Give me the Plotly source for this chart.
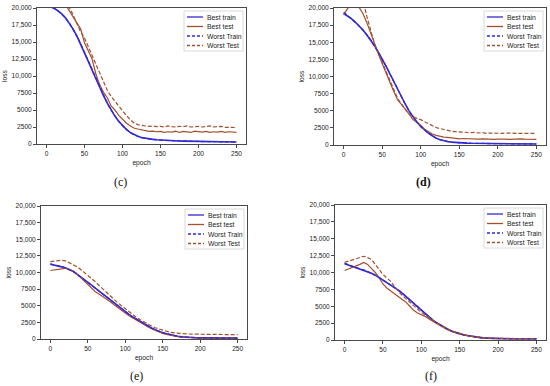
import plotly.graph_objects as go

W, H = 550, 386

epochs = list(range(0, 251, 5))
y_ticks = [0, 2500, 5000, 7500, 10000, 12500, 15000, 17500, 20000]
y_ticktext = ["0", "2500", "5000", "7500", "10,000", "12,500", "15,000", "17,500", "20,000"]
x_ticks = [0, 50, 100, 150, 200, 250]
series_names = ["Best train", "Best test", "Worst Train", "Worst Test"]
panel_labels = ["(c)", "(d)", "(e)", "(f)"]

# ---- panel (c) ----
c_best_train = [20400, 20200, 19950, 19600, 19150, 18550, 17800, 16900, 15850, 14700,
                13450, 12150, 10850, 9550, 8300, 7100, 6000, 5000, 4100, 3350,
                2700, 2150, 1700, 1380, 1130, 960, 840, 750, 680, 620,
                575, 535, 505, 480, 460, 440, 425, 410, 400, 390,
                380, 370, 360, 355, 345, 340, 330, 325, 320, 310, 300]
c_best_test = [23500, 23000, 22500, 22000, 21300, 20500, 19600, 18600, 17600, 16900,
               14900, 13600, 12500, 10300, 8700, 7600, 6800, 5600, 5000, 4200,
               3600, 3100, 2700, 2350, 2200, 2050, 2000, 1850, 1900, 1800,
               1850, 1700, 1800, 1750, 1900, 1700, 1850, 1800, 1700, 1900,
               1800, 1750, 1850, 1700, 1800, 1750, 1850, 1700, 1800, 1750, 1700]
c_worst_train = [20420, 20210, 19960, 19590, 19130, 18530, 17790, 16910, 15870, 14720,
                 13460, 12140, 10830, 9540, 8300, 7110, 6010, 4990, 4090, 3340,
                 2690, 2140, 1690, 1370, 1120, 950, 830, 740, 670, 610,
                 565, 525, 495, 470, 450, 435, 420, 405, 395, 385,
                 375, 365, 355, 350, 340, 335, 325, 320, 315, 305, 295]
c_worst_test = [24500, 24000, 23500, 23000, 22200, 21200, 20200, 19000, 17700, 16500,
                15600, 14300, 13100, 11800, 10300, 9200, 7900, 7000, 6300, 5500,
                4900, 4200, 3600, 3100, 2850, 2700, 2650, 2600, 2650, 2550,
                2600, 2500, 2650, 2550, 2500, 2600, 2550, 2650, 2500, 2550,
                2600, 2500, 2550, 2650, 2500, 2550, 2600, 2450, 2500, 2450, 2400]

# ---- panel (d) ----
d_best_train = [19200, 18850, 18450, 17950, 17400, 16800, 16100, 15350, 14500, 13550,
                12600, 11500, 10400, 9250, 8150, 7050, 5950, 4950, 4100, 3350,
                2700, 2200, 1750, 1350, 1000, 780, 620, 500, 420, 360,
                320, 290, 270, 250, 240, 230, 220, 210, 205, 200,
                195, 190, 185, 180, 175, 170, 165, 160, 158, 155, 150]
d_best_test = [19000, 19900, 20500, 20600, 20100, 19200, 17900, 16300, 14700, 13300,
               11900, 10500, 9200, 7800, 6600, 5900, 5300, 4500, 3700, 3300,
               2900, 2300, 1900, 1600, 1400, 1250, 1150, 1100, 1000, 950,
               900, 950, 900, 850, 900, 850, 900, 850, 880, 820,
               850, 900, 870, 820, 880, 850, 900, 850, 830, 850, 820]
d_worst_train = [19400, 18900, 18480, 17960, 17390, 16790, 16080, 15330, 14480, 13540,
                 12590, 11490, 10390, 9240, 8140, 7040, 5940, 4940, 4090, 3340,
                 2690, 2190, 1740, 1340, 990, 770, 610, 490, 410, 350,
                 310, 280, 260, 245, 235, 225, 215, 205, 200, 195,
                 190, 185, 180, 175, 170, 165, 160, 155, 153, 150, 145]
d_worst_test = [26000, 25500, 24500, 23500, 22500, 21200, 18800, 16600, 14800, 13400,
                12100, 10800, 9500, 8000, 6800, 6000, 5200, 4500, 4100, 3950,
                3700, 3400, 3100, 2800, 2550, 2400, 2250, 2150, 2000, 1950,
                1900, 1950, 1850, 1800, 1850, 1750, 1800, 1700, 1750, 1700,
                1750, 1700, 1750, 1700, 1750, 1700, 1700, 1750, 1700, 1700, 1700]

# ---- panel (e) ----
e_best_train = [11250, 11150, 11000, 10850, 10700, 10500, 10200, 9800, 9400, 9000,
                8550, 8100, 7650, 7200, 6750, 6300, 5850, 5400, 4950, 4500,
                4100, 3700, 3300, 2950, 2600, 2250, 1950, 1650, 1400, 1150,
                950, 800, 650, 520, 420, 340, 280, 240, 210, 190,
                175, 165, 160, 155, 150, 150, 145, 145, 140, 140, 140]
e_best_test = [10300, 10350, 10450, 10550, 10650, 10500, 10250, 9850, 9300, 8700,
               8050, 7500, 7100, 6750, 6400, 6000, 5600, 5150, 4700, 4300,
               3900, 3500, 3150, 2800, 2450, 2150, 1850, 1550, 1300, 1050,
               850, 700, 560, 440, 350, 280, 230, 190, 160, 140,
               130, 120, 115, 110, 110, 105, 105, 100, 100, 100, 100]
e_worst_train = [11300, 11180, 11020, 10860, 10700, 10490, 10190, 9790, 9390, 8990,
                 8540, 8090, 7640, 7190, 6740, 6290, 5840, 5390, 4940, 4490,
                 4090, 3690, 3290, 2940, 2590, 2240, 1940, 1640, 1390, 1140,
                 940, 790, 640, 510, 410, 330, 270, 230, 200, 180,
                 165, 155, 150, 145, 140, 140, 135, 135, 130, 130, 130]
e_worst_test = [11650, 11700, 11800, 11850, 11750, 11500, 11250, 10900, 10500, 10050,
                9600, 9100, 8600, 8050, 7500, 7000, 6450, 5950, 5450, 5000,
                4550, 4100, 3700, 3250, 2900, 2550, 2250, 1950, 1700, 1500,
                1300, 1150, 1000, 920, 850, 800, 770, 750, 730, 720,
                710, 700, 690, 680, 680, 670, 670, 660, 660, 650, 650]

# ---- panel (f) ----
f_best_train = [11300, 11100, 10900, 10700, 10550, 10400, 10150, 9900, 9600, 9250,
                8900, 8550, 8200, 7800, 7400, 6950, 6450, 5950, 5450, 4950,
                4400, 3900, 3400, 2950, 2550, 2200, 1850, 1550, 1300, 1100,
                920, 780, 660, 550, 460, 380, 320, 280, 250, 230,
                215, 205, 200, 195, 190, 190, 185, 185, 180, 180, 180]
f_best_test = [10300, 10500, 10750, 10950, 11200, 11500, 11200, 10600, 10000, 9200,
               8300, 7700, 7300, 6900, 6500, 6100, 5600, 5000, 4400, 4000,
               3800, 3500, 3100, 2750, 2400, 2100, 1800, 1500, 1250, 1050,
               880, 740, 620, 520, 430, 360, 300, 260, 230, 210,
               200, 190, 180, 170, 170, 160, 160, 150, 160, 150, 150]
f_worst_train = [11350, 11120, 10910, 10700, 10540, 10390, 10140, 9890, 9590, 9240,
                 8890, 8540, 8190, 7790, 7390, 6940, 6440, 5940, 5440, 4940,
                 4390, 3890, 3390, 2940, 2540, 2190, 1840, 1540, 1290, 1090,
                 910, 770, 650, 540, 450, 370, 310, 270, 240, 220,
                 205, 195, 190, 185, 180, 180, 175, 175, 170, 170, 170]
f_worst_test = [11500, 11700, 11900, 12100, 12300, 12400, 12200, 11950, 11200, 10400,
                9700, 9200, 8700, 7900, 7200, 6600, 6100, 5600, 5000, 4500,
                4100, 3700, 3300, 2900, 2550, 2200, 1900, 1600, 1350, 1150,
                960, 800, 680, 570, 480, 400, 340, 300, 270, 250,
                240, 230, 220, 215, 210, 205, 200, 200, 195, 190, 190]

panels = [
    [c_best_train, c_best_test, c_worst_train, c_worst_test],
    [d_best_train, d_best_test, d_worst_train, d_worst_test],
    [e_best_train, e_best_test, e_worst_train, e_worst_test],
    [f_best_train, f_best_test, f_worst_train, f_worst_test],
]

# ---- layout (pixel boxes: left, right, top, bottom) ----
boxes = [(37, 246, 8, 144), (334, 546, 8, 145), (41, 247, 206, 339), (335, 546, 205, 340)]
label_pos = [(120, 182), (423, 182), (136, 376), (431, 376)]

BLUE = "#3328d6"
BROWN = "#a4502c"
styles = [
    dict(color=BLUE, width=1.6, dash="solid"),
    dict(color=BROWN, width=1.2, dash="solid"),
    dict(color=BLUE, width=1.3, dash="4px,2px"),
    dict(color=BROWN, width=1.2, dash="4px,2px"),
]

FONT = "Liberation Sans, Arial, sans-serif"
fig = go.Figure()
layout = dict(
    width=W, height=H, margin=dict(l=0, r=0, t=0, b=0, autoexpand=False),
    paper_bgcolor="white", plot_bgcolor="white", showlegend=False,
    font=dict(family=FONT, size=6.6, color="#222222"),
)

def px(x):
    return x / W

def py(y):
    return 1 - y / H

shapes = []
annotations = []
for i, (data, box) in enumerate(zip(panels, boxes)):
    sfx = "" if i == 0 else str(i + 1)
    xa, ya = "x" + sfx, "y" + sfx
    for name, vals, st in zip(series_names, data, styles):
        fig.add_trace(go.Scatter(x=epochs, y=vals, mode="lines", name=name,
                                 line=st, xaxis=xa, yaxis=ya, showlegend=False))
    l, r, t, b = box
    axcommon = dict(showline=True, mirror=True, linecolor="#4a4a4a", linewidth=0.9,
                    ticks="outside", ticklen=3, tickwidth=0.8, tickcolor="#4a4a4a",
                    showgrid=False, zeroline=False, automargin=False,
                    tickfont=dict(size=6.6, color="#222222", family=FONT))
    layout["xaxis" + sfx] = dict(axcommon, domain=[px(l), px(r)], anchor=ya,
                                 range=[-12.5, 262.5], tickvals=x_ticks,
                                 title=dict(text="epoch", font=dict(size=6.7), standoff=4))
    layout["yaxis" + sfx] = dict(axcommon, domain=[py(b), py(t)], anchor=xa,
                                 range=[0, 20000], tickvals=y_ticks, ticktext=y_ticktext,
                                 title=dict(text="loss", font=dict(size=6.7), standoff=3))
    # legend box (top-right of each axes)
    lx0, lx1 = r - 62, r - 3
    ly0, ly1 = t + 3, t + 43
    shapes.append(dict(type="rect", xref="paper", yref="paper",
                       x0=px(lx0), x1=px(lx1), y0=py(ly1), y1=py(ly0),
                       line=dict(color="#d0d0d0", width=0.8), fillcolor="rgba(255,255,255,0.85)"))
    for k, (name, st) in enumerate(zip(series_names, styles)):
        yy = ly0 + 6 + k * 9.5
        shapes.append(dict(type="line", xref="paper", yref="paper",
                           x0=px(lx0 + 3), x1=px(lx0 + 19), y0=py(yy), y1=py(yy),
                           line=dict(color=st["color"], width=1.3,
                                     dash="solid" if st["dash"] == "solid" else "3px,2px")))
        annotations.append(dict(xref="paper", yref="paper", x=px(lx0 + 21), y=py(yy),
                                text=name, showarrow=False, xanchor="left", yanchor="middle",
                                font=dict(size=6.8, color="#222222", family=FONT)))
    lx, lyy = label_pos[i]
    annotations.append(dict(xref="paper", yref="paper", x=px(lx), y=py(lyy),
                            text=panel_labels[i] if i != 1 else "<b>" + panel_labels[i] + "</b>",
                            showarrow=False, xanchor="center", yanchor="middle",
                            font=dict(size=12, color="#111111",
                                      family="Liberation Serif, Times New Roman, serif")))

layout["shapes"] = shapes
layout["annotations"] = annotations
fig.update_layout(**layout)
fig.write_html("out.html", config={"displayModeBar": False},
               post_script="document.body.style.margin='0px';document.body.style.padding='0px';")
